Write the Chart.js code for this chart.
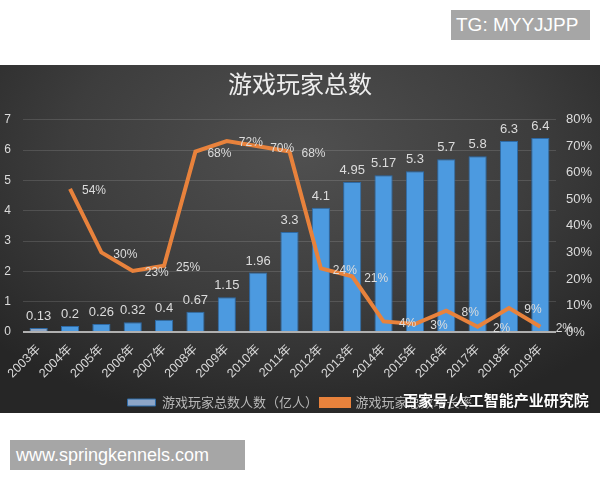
<!DOCTYPE html>
<html>
<head>
<meta charset="utf-8">
<script src="https://cdn.jsdelivr.net/npm/chart.js@4.4.1/dist/chart.umd.min.js"></script>
<style>
  html, body { margin: 0; padding: 0; background: #fff; }
  body { width: 600px; height: 480px; position: relative; overflow: hidden; font-family: "Liberation Sans", Arial, sans-serif; }
  .tag { position: absolute; background: #a6a6a6; color: #fff; line-height: 30px; height: 30px; box-sizing: border-box; }
  #tg { left: 451px; top: 10px; width: 139px; font-size: 19px; padding-left: 5px; }
  #site { left: 10px; top: 440px; width: 235px; font-size: 18px; padding-left: 6px; }
  #panel {
    position: absolute; left: 0; top: 65px; width: 600px; height: 348px;
    background: radial-gradient(ellipse 70% 80% at 50% 25%, #505050 0%, #3d3d3d 55%, #262626 100%);
  }
  #panel canvas { position: absolute; left: 0; top: 0; }
  #stamp {
    position: absolute; left: 403px; top: 389px; color: #fff; font-weight: bold;
    font-size: 15px; font-family: "Noto Sans CJK SC", sans-serif; white-space: nowrap;
    text-shadow: 0 0 2px rgba(0,0,0,0.6);
  }
</style>
</head>
<body>
<div id="tg" class="tag">TG: MYYJJPP</div>
<div id="panel"><canvas id="c" width="600" height="354"></canvas></div>
<div id="stamp">百家号/人工智能产业研究院</div>
<div id="site" class="tag">www.springkennels.com</div>

<script>
// ── Data ───────────────────────────────────────────────
const years   = ["2003年","2004年","2005年","2006年","2007年","2008年","2009年","2010年","2011年",
                 "2012年","2013年","2014年","2015年","2016年","2017年","2018年","2019年"];
const players = [0.13, 0.2, 0.26, 0.32, 0.4, 0.67, 1.15, 1.96, 3.3, 4.1, 4.95, 5.17, 5.3, 5.7, 5.8, 6.3, 6.4];
const growth  = [null, 54, 30, 23, 25, 68, 72, 70, 68, 24, 21, 4, 3, 8, 2, 9, 2];

const CJK = '"Liberation Sans", "Noto Sans CJK SC", sans-serif';

// ── Value labels drawn next to bars / points ───────────
const valueLabels = {
  id: "valueLabels",
  afterDatasetsDraw(chart) {
    const ctx = chart.ctx;
    ctx.save();
    ctx.fillStyle = "#dcdcdc";
    chart.data.datasets.forEach((ds, di) => {
      const meta = chart.getDatasetMeta(di);
      meta.data.forEach((el, i) => {
        const v = ds.data[i];
        if (v === null) return;
        if (ds.type === "bar") {
          ctx.font = "13px " + CJK;
          ctx.textAlign = "center";
          ctx.textBaseline = "bottom";
          ctx.fillText(String(v), el.x, el.y - 5);
        } else {
          ctx.font = "12px " + CJK;
          ctx.textAlign = "center";
          ctx.textBaseline = "middle";
          ctx.fillText(v + "%", el.x + 24, el.y + 2);
        }
      });
    });
    ctx.restore();
  }
};

new Chart(document.getElementById("c"), {
  data: {
    labels: years,
    datasets: [
      {
        type: "bar",
        label: "游戏玩家总数人数（亿人）",
        data: players,
        yAxisID: "y",
        order: 1,
        backgroundColor: (c) => c.dataIndex === 0 ? "#8da6c8" : "#4c9ae0",
        borderColor: "#2d6aa6",
        borderWidth: 1,
        barPercentage: 0.58,
        categoryPercentage: 1,
      },
      {
        type: "line",
        label: "游戏玩家总数增长率",
        data: growth,
        yAxisID: "y1",
        order: 0,
        borderColor: "#e8823c",
        backgroundColor: "#e8823c",
        borderWidth: 4,
        pointRadius: 0,
        tension: 0,
        spanGaps: false,
      },
    ],
  },
  options: {
    responsive: false,
    animation: false,
    layout: { padding: 0 },
    plugins: {
      title: {
        display: true,
        text: "游戏玩家总数",
        color: "#eeeeee",
        font: { size: 24, family: '"Noto Sans CJK SC", serif', weight: "normal" },
        padding: { top: 4, bottom: 22 },
      },
      legend: {
        position: "bottom",
        reverse: true,
        labels: {
          color: "#b8b8b8",
          font: { size: 13, family: '"Noto Sans CJK SC", serif' },
          boxWidth: 28,
          boxHeight: 7,
          padding: 3,
        },
      },
      tooltip: { enabled: false },
    },
    scales: {
      x: {
        grid: { display: false },
        border: { display: false },
        ticks: {
          color: "#d8d8d8",
          font: { size: 12.5, family: CJK },
          maxRotation: 45,
          minRotation: 45,
          autoSkip: false,
          padding: 2,
        },
        afterFit: (s) => { s.height = 61; },
      },
      y: {
        position: "left",
        min: 0,
        max: 7,
        border: { display: false },
        grid: {
          drawTicks: false,
          color: (c) => c.tick.value === 0 ? "#b0b0b0" : "rgba(255,255,255,0.13)",
          lineWidth: (c) => c.tick.value === 0 ? 2 : 1,
        },
        ticks: { stepSize: 1, color: "#dcdcdc", font: { size: 12, family: CJK }, padding: 12 },
        afterFit: (s) => { s.width = 23; },
      },
      y1: {
        position: "right",
        min: 0,
        max: 80,
        border: { display: false },
        grid: { display: false, drawTicks: false },
        ticks: {
          stepSize: 10,
          color: "#dcdcdc",
          font: { size: 13, family: CJK },
          padding: 10,
          callback: (v) => v + "%",
        },
        afterFit: (s) => { s.width = 44; },
      },
    },
  },
  plugins: [valueLabels],
});
</script>
</body>
</html>
